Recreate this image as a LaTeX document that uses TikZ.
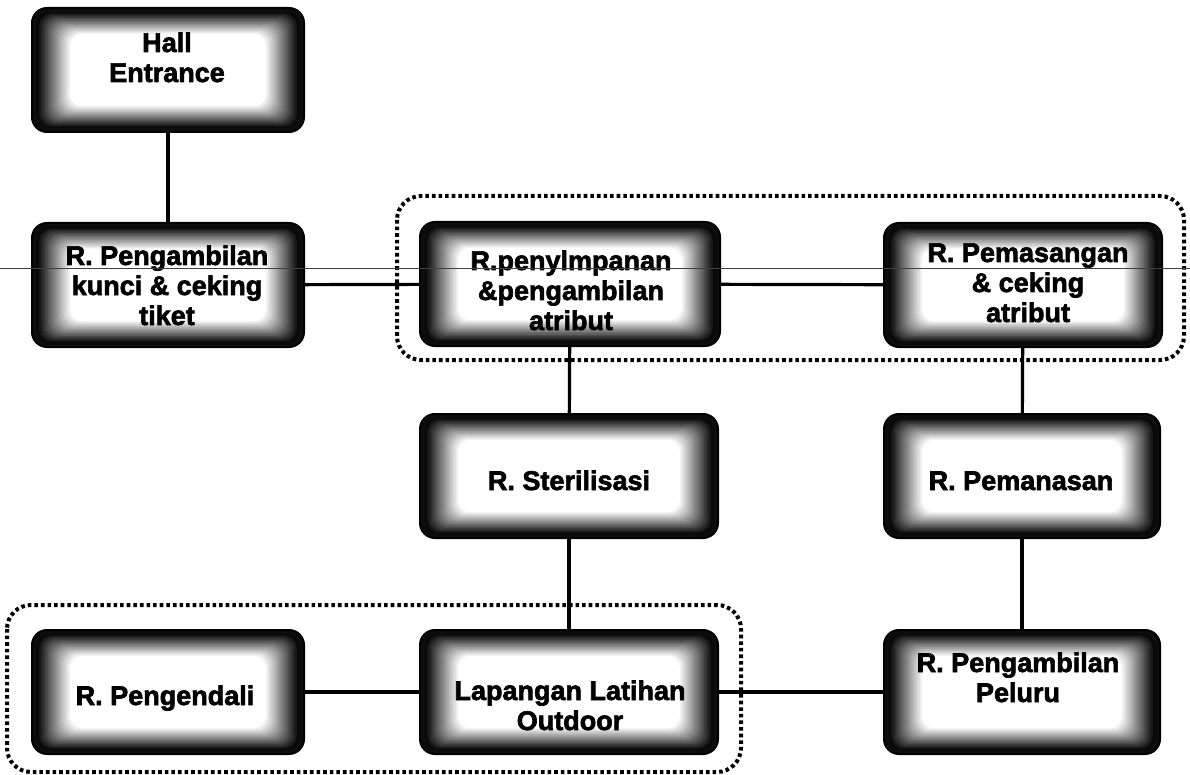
\documentclass[tikz,border=0pt]{standalone}
\usepackage{fontspec}
\setmainfont{Liberation Sans}[BoldFeatures={FakeBold=2.4}]
\begin{document}
\begin{tikzpicture}[x=1pt,y=-1pt,
  room/.style={draw=black, line width=2pt, fill=black!95, rounded corners=15pt,
    minimum width=#1, minimum height=124pt, inner sep=0pt,
    path picture={
      \foreach \i [evaluate=\i as \dx using 5+2.2*\i,
                   evaluate=\i as \dy using 4+1.45*\i,
                   evaluate=\i as \lv using {max(0,97-6.5*\i)}] in {0,...,15}{
        \fill[black!\lv, rounded corners=12pt]
          ([xshift=\dx pt,yshift=\dy pt]path picture bounding box.south west)
          rectangle
          ([xshift=-\dx pt,yshift=-\dy pt]path picture bounding box.north east);
      }
    }},
  roomtext/.style={font=\bfseries\fontsize{27}{30}\selectfont, align=center,
    anchor=base, inner sep=0pt},
  conn/.style={line width=3.2pt, black},
  groupline/.style={line width=4pt, dash pattern=on 3.6pt off 3pt,
    rounded corners=24pt},
  rulemark/.style={line width=1pt, black!75}
]
\useasboundingbox (0,0) rectangle (1190,775);

% dotted group outlines
\draw[groupline] (397,196) rectangle (1184,360);
\draw[groupline] (7,605) rectangle (741,772);

% rooms
\node[room=272pt] (hall)     at (168,70)   {};
\node[room=272pt] (kunci)    at (168,285)  {};
\node[room=300pt] (simpan)   at (570,284)  {};
\node[room=278pt] (pasang)   at (1023,285) {};
\node[room=298pt] (steril)   at (569,476)  {};
\node[room=276pt] (panas)    at (1022,476) {};
\node[room=272pt] (kendali)  at (168,692)  {};
\node[room=298pt] (lapangan) at (569,692)  {};
\node[room=276pt] (peluru)   at (1022,692) {};

% room names (anchored at the baseline of the last line)
\node[roomtext] (hallT)     at (167,82)  {Hall\\Entrance};
\node[roomtext] (kunciT)    at (167,325) {R. Pengambilan\\kunci \& ceking\\tiket};
\node[roomtext] (simpanT)   at (571,330) {R.penylmpanan\\\&pengambilan\\atribut};
\node[roomtext] (pasangT)   at (1028,322) {R. Pemasangan\\\& ceking\\atribut};
\node[roomtext] (sterilT)   at (569,490) {R. Sterilisasi};
\node[roomtext] (panasT)    at (1021,490) {R. Pemanasan};
\node[roomtext] (kendaliT)  at (165,705) {R. Pengendali};
\node[roomtext] (lapanganT) at (570,730) {Lapangan Latihan\\Outdoor};
\node[roomtext] (peluruT)   at (1018,702) {R. Pengambilan\\Peluru};

% connections
\draw[conn] (hall) -- (kunci);
\draw[conn] (kunci) -- (simpan);
\draw[conn] (simpan) -- (pasang);
\draw[conn] (simpan) -- (steril);
\draw[conn] (steril) -- (lapangan);
\draw[conn] (pasang) -- (panas);
\draw[conn] (panas) -- (peluru);
\draw[conn] (kendali) -- (lapangan);
\draw[conn] (lapangan) -- (peluru);

% thin rule running across the page
\coordinate (ruleL) at (0,269);
\coordinate (ruleR) at (1190,269);
\draw[rulemark] (ruleL) -- (ruleR);
\end{tikzpicture}
\end{document}
